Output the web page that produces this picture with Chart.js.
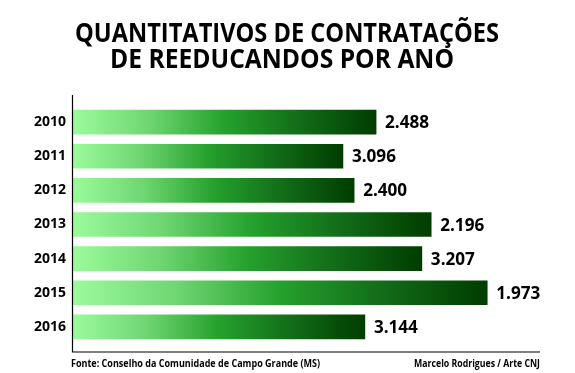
<!DOCTYPE html>
<html>
<head>
<meta charset="utf-8">
<script src="https://cdn.jsdelivr.net/npm/chart.js@4.4.1/dist/chart.umd.min.js"></script>
<style>
  html, body { margin: 0; padding: 0; background: #ffffff; }
  #wrap { width: 575px; height: 373px; position: relative; }
</style>
</head>
<body>
<div id="wrap"><canvas id="c" width="575" height="373"></canvas></div>
<script>
// ---- data ----
const years = ["2010", "2011", "2012", "2013", "2014", "2015", "2016"];
// bar lengths as drawn in the picture (relative units, 0-100 of the axis)
const barLengths = [64.9, 57.8, 60.2, 76.7, 74.7, 88.7, 62.5];
// values printed next to each bar
const printedValues = [2488, 3096, 2400, 2196, 3207, 1973, 3144];
const titleLines = ["QUANTITATIVOS DE CONTRATAÇÕES", "DE REEDUCANDOS POR ANO"];
const sourceText = "Fonte: Conselho da Comunidade de Campo Grande (MS)";
const creditText = "Marcelo Rodrigues / Arte CNJ";

const FONT = "'Open Sans', 'DejaVu Sans', sans-serif";

function fmt(v) {
  return String(v).replace(/\B(?=(\d{3})+(?!\d))/g, ".");
}

function barGradient(context) {
  const chart = context.chart;
  const area = chart.chartArea;
  if (!area) return "#1f9a27";
  const v = context.raw;
  const x0 = chart.scales.x.getPixelForValue(0);
  const x1 = chart.scales.x.getPixelForValue(v);
  const g = chart.ctx.createLinearGradient(x0, 0, x1, 0);
  g.addColorStop(0.0, "#9bfb9b");
  g.addColorStop(0.25, "#6fd672");
  g.addColorStop(0.5, "#25a12d");
  g.addColorStop(0.75, "#126c18");
  g.addColorStop(1.0, "#003d00");
  return g;
}

const decorPlugin = {
  id: "decor",
  afterDraw(chart) {
    const ctx = chart.ctx;
    const a = chart.chartArea;
    ctx.save();
    // title
    ctx.fillStyle = "#000000";
    ctx.textBaseline = "alphabetic";
    ctx.textAlign = "center";
    ctx.font = "bold 27px " + FONT;
    ctx.fillText(titleLines[0], 287, 42, 424);
    ctx.fillText(titleLines[1], 282, 68, 344);
    // axis lines
    ctx.strokeStyle = "#000000";
    ctx.lineWidth = 1.2;
    ctx.beginPath();
    ctx.moveTo(a.left - 0.5, a.top - 10);
    ctx.lineTo(a.left - 0.5, a.bottom + 8);
    ctx.lineTo(a.right, a.bottom + 8);
    ctx.stroke();
    // value labels
    const meta = chart.getDatasetMeta(0);
    ctx.textAlign = "left";
    ctx.textBaseline = "middle";
    ctx.font = "bold 18px " + FONT;
    meta.data.forEach((bar, i) => {
      ctx.fillText(fmt(printedValues[i]), bar.x + 9, bar.y + 1, 44);
    });
    // footer
    ctx.textBaseline = "alphabetic";
    ctx.font = "bold 10px " + FONT;
    ctx.textAlign = "left";
    ctx.fillText(sourceText, 71, 367, 249);
    ctx.textAlign = "right";
    ctx.fillText(creditText, 540, 367, 126);
    ctx.restore();
  }
};

new Chart(document.getElementById("c"), {
  type: "bar",
  data: {
    labels: years,
    datasets: [{
      data: barLengths,
      backgroundColor: barGradient,
      borderWidth: 0,
      barThickness: 24
    }]
  },
  options: {
    indexAxis: "y",
    responsive: false,
    animation: false,
    devicePixelRatio: 1,
    layout: { padding: { top: 105, bottom: 29, right: 35, left: 0 } },
    plugins: {
      legend: { display: false },
      tooltip: { enabled: false },
      title: { display: false }
    },
    scales: {
      x: {
        display: false,
        min: 0,
        max: 100
      },
      y: {
        grid: { display: false, drawTicks: false },
        border: { display: false },
        ticks: {
          color: "#000000",
          padding: 7,
          font: { family: FONT, size: 14, weight: "bold" }
        },
        afterFit(scale) { scale.width = 73; }
      }
    }
  },
  plugins: [decorPlugin]
});
</script>
</body>
</html>
